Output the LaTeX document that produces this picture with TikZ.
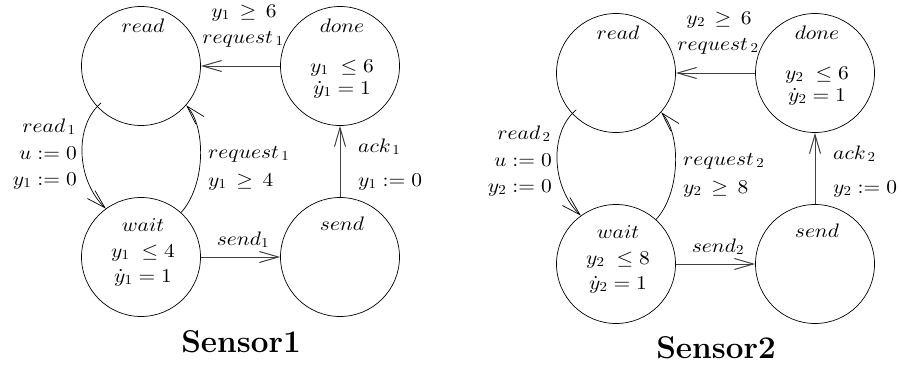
\documentclass[tikz,border=0pt]{standalone}
\usepackage{graphicx}
\usetikzlibrary{arrows.meta,calc}

% scalable math fonts at any size
\DeclareFontShape{OML}{cmm}{m}{it}{<->cmmi10}{}
\DeclareFontShape{OMS}{cmsy}{m}{n}{<->cmsy10}{}
\DeclareFontShape{OT1}{cmr}{m}{n}{<->cmr10}{}
\DeclareFontShape{OMX}{cmex}{m}{n}{<->cmex10}{}

% slightly widened math labels
\newcommand\mtxt[1]{\scalebox{1.1}[1]{$#1$}}

\tikzset{
  state/.style={circle,draw,line width=0.7pt,minimum size=119pt,inner sep=0pt},
  lab/.style={inner sep=0pt,anchor=base,font=\fontsize{19.5}{22}\selectfont},
  edge/.style={line width=1pt,draw=black!75,
    -{Straight Barb[length=19pt,width=11pt,line width=1pt]}},
  bendedge/.style={line width=0.7pt,
    -{Straight Barb[length=19pt,width=11pt,line width=0.7pt]}},
  title/.style={inner sep=0pt,anchor=base,font=\fontsize{31.5}{36}\selectfont\bfseries},
}

% one sensor automaton: #1 index, #2/#3 shift, #4 bound in wait
\newcommand\sensorgraph[4]{%
\begin{scope}[shift={(#2,#3)}]
  \node[state] (read#1) at (141,66) {};
  \node[state] (done#1) at (340,66) {};
  \node[state] (wait#1) at (141,257) {};
  \node[state] (send#1) at (340,257) {};
  % location names and invariants
  \node[lab] (readname#1) at (143,32) {\mtxt{read}};
  \node[lab] (donename#1) at (342,32) {\mtxt{done}};
  \node[lab] (doneinv#1) at (342,72) {\mtxt{y_#1\;\leq 6}};
  \node[lab] (donerate#1) at (342,94) {\mtxt{\smash{\dot{y}_#1} = 1}};
  \node[lab] (waitname#1) at (143,231) {\mtxt{wait}};
  \node[lab] (waitinv#1) at (143,257) {\mtxt{y_#1\;\leq #4}};
  \node[lab] (waitrate#1) at (143,282) {\mtxt{\smash{\dot{y}_#1} = 1}};
  \node[lab] (sendname#1) at (342,230) {\mtxt{send}};
  % transitions
  \draw[edge] (done#1) -- (read#1);
  \draw[edge] (wait#1) -- (send#1);
  \draw[edge] (send#1) -- (done#1);
  \draw[bendedge] ($(read#1.223)+(4,-4)$) .. controls (74,125) and (76,180) .. (wait#1.126);
  \draw[bendedge] (wait#1.48) .. controls (206,185) and (206,127) .. (read#1.319);
  % transition labels
  \node[lab] (guardtop#1) at (244,17) {\mtxt{y_#1\,\geq\,6}};
  \node[lab] (reqtop#1) at (243,43) {\mtxt{request_{\,#1}}};
  \node[lab,anchor=base east] (readlab#1) at (76,132) {\mtxt{read_{\,#1}}};
  \node[lab,anchor=base east] (ureset#1) at (77,159) {\mtxt{u := 0}};
  \node[lab,anchor=base east] (yreset#1) at (77,185) {\mtxt{y_#1 := 0}};
  \node[lab,anchor=base west] (reqright#1) at (208,158) {\mtxt{request_{\,#1}}};
  \node[lab,anchor=base west] (guardright#1) at (208,186) {\mtxt{y_#1\,\geq\,#4}};
  \node[lab,anchor=base west] (acklab#1) at (358,152) {\mtxt{ack_{\,#1}}};
  \node[lab,anchor=base west] (ackreset#1) at (358,186) {\mtxt{y_#1 := 0}};
  \node[lab] (sendlab#1) at (243,245) {\mtxt{send_#1}};
\end{scope}}

\begin{document}
\begin{tikzpicture}[x=1pt,y=-1pt]
  \useasboundingbox (0,0) rectangle (899,367);
  \sensorgraph{1}{0}{0}{4}
  \sensorgraph{2}{475}{7}{8}
  \node[title] (sensorA) at (241,352) {Sensor1};
  \node[title] (sensorB) at (716,358) {Sensor2};
\end{tikzpicture}
\end{document}
